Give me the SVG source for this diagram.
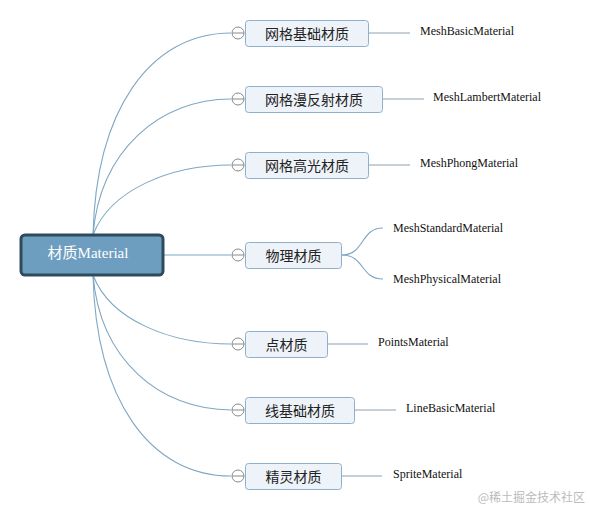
<svg xmlns="http://www.w3.org/2000/svg" width="590" height="510" viewBox="0 0 590 510">
<style>
.c{fill:none;stroke:#7fa7c4;stroke-width:1.1}
.s{fill:none;stroke:#8aa0b0;stroke-width:1}
.box{fill:#eef3f9;stroke:#8fb0cc;stroke-width:1}
.cn{fill:#fff;stroke:#8a8a8a;stroke-width:1}
.t{font-family:"Noto Sans CJK SC","Noto Sans",sans-serif;font-size:14px;fill:#222;text-anchor:middle}
.l{font-family:"Liberation Serif",serif;font-size:12px;fill:#111}
</style>
<rect width="590" height="510" fill="#fff"/>
<g id="connectors">
<path class="c" d="M93,235 C96,110 150,33 231,33"/>
<path class="c" d="M93,235 C100,150 160,99 231,99"/>
<path class="c" d="M93,235 C110,190 170,165 231,165"/>
<path class="c" d="M164,255 H231"/>
<path class="c" d="M93,275 C110,320 170,344 231,344"/>
<path class="c" d="M93,275 C100,360 160,410 231,410"/>
<path class="c" d="M93,275 C96,400 150,476 231,476"/>
<path class="s" d="M369,33 H410"/>
<path class="s" d="M383,99 H424"/>
<path class="s" d="M369,165 H410"/>
<path class="c" d="M342,255 C365,255 360,228 383,228"/>
<path class="c" d="M342,255 C365,255 360,279 383,279"/>
<path class="s" d="M327,344 H368"/>
<path class="s" d="M355,410 H396"/>
<path class="s" d="M342,476 H382"/>
</g>
<g id="root">
<rect x="21" y="235" width="142" height="40" rx="4" fill="#6d9ebf" stroke="#2f4a5c" stroke-width="3"/>
<text x="88" y="258" font-family="Noto Sans CJK SC,sans-serif" font-size="15" fill="#fff" text-anchor="middle">材质<tspan font-family="Liberation Serif,serif">Material</tspan></text>
</g>
<g id="n1"><circle class="cn" cx="238" cy="33" r="6"/><path class="cn" d="M232,33 H244"/><rect class="box" x="245.5" y="20.5" width="123" height="26" rx="3"/><text class="t" x="307" y="38.5">网格基础材质</text></g>
<g id="n2"><circle class="cn" cx="238" cy="99" r="6"/><path class="cn" d="M232,99 H244"/><rect class="box" x="245.5" y="86.5" width="137" height="26" rx="3"/><text class="t" x="314" y="104.5">网格漫反射材质</text></g>
<g id="n3"><circle class="cn" cx="238" cy="165" r="6"/><path class="cn" d="M232,165 H244"/><rect class="box" x="245.5" y="152.5" width="123" height="26" rx="3"/><text class="t" x="307" y="170.5">网格高光材质</text></g>
<g id="n4"><circle class="cn" cx="238" cy="255" r="6"/><path class="cn" d="M232,255 H244"/><rect class="box" x="245.5" y="242.5" width="96" height="26" rx="3"/><text class="t" x="293.5" y="260.5">物理材质</text></g>
<g id="n5"><circle class="cn" cx="238" cy="344" r="6"/><path class="cn" d="M232,344 H244"/><rect class="box" x="245.5" y="331.5" width="82" height="26" rx="3"/><text class="t" x="286.5" y="349.5">点材质</text></g>
<g id="n6"><circle class="cn" cx="238" cy="410" r="6"/><path class="cn" d="M232,410 H244"/><rect class="box" x="245.5" y="397.5" width="109" height="26" rx="3"/><text class="t" x="300" y="415.5">线基础材质</text></g>
<g id="n7"><circle class="cn" cx="238" cy="476" r="6"/><path class="cn" d="M232,476 H244"/><rect class="box" x="245.5" y="463.5" width="96" height="26" rx="3"/><text class="t" x="293.5" y="481.5">精灵材质</text></g>
<g id="leaves">
<text class="l" x="420" y="35">MeshBasicMaterial</text>
<text class="l" x="433" y="101">MeshLambertMaterial</text>
<text class="l" x="420" y="167">MeshPhongMaterial</text>
<text class="l" x="393" y="232">MeshStandardMaterial</text>
<text class="l" x="393" y="283">MeshPhysicalMaterial</text>
<text class="l" x="378" y="346">PointsMaterial</text>
<text class="l" x="406" y="412">LineBasicMaterial</text>
<text class="l" x="393" y="478">SpriteMaterial</text>
</g>
<text x="585" y="502" font-family="Noto Sans CJK SC,sans-serif" font-size="12" fill="#bbb" text-anchor="end">@稀土掘金技术社区</text>
</svg>
